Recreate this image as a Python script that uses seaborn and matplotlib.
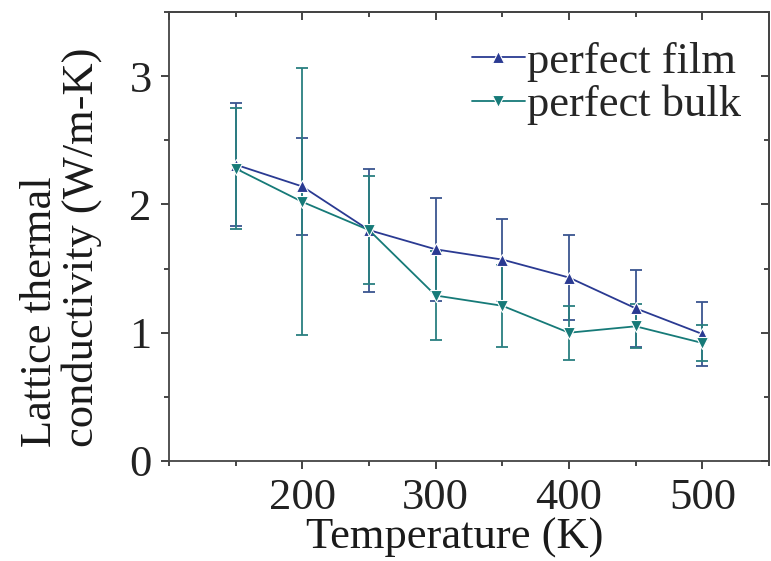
import matplotlib
matplotlib.use("Agg")
import matplotlib.pyplot as plt
from matplotlib.ticker import MultipleLocator
import seaborn as sns
import pandas as pd
import numpy as np

temperature = [150, 200, 250, 300, 350, 400, 450, 500]
film_k = [2.31, 2.14, 1.80, 1.65, 1.57, 1.43, 1.19, 0.99]
film_err = [0.48, 0.38, 0.48, 0.40, 0.32, 0.33, 0.30, 0.25]
bulk_k = [2.28, 2.02, 1.80, 1.29, 1.21, 1.00, 1.05, 0.92]
bulk_err = [0.47, 1.04, 0.42, 0.35, 0.32, 0.21, 0.17, 0.14]
series_names = ["perfect film", "perfect bulk"]

film_color = "#2a3a92"
bulk_color = "#167a78"

df = pd.DataFrame({
    "T": temperature * 2,
    "k": film_k + bulk_k,
    "series": [series_names[0]] * len(temperature) + [series_names[1]] * len(temperature),
})

sns.set_style("ticks")
plt.rcParams["font.family"] = ["Liberation Serif", "DejaVu Serif"]

fig = plt.figure(figsize=(7.71, 5.61), dpi=100)
ax = fig.add_axes([169 / 771, 100 / 561, 600 / 771, 449 / 561])

ax.errorbar(temperature, film_k, yerr=film_err, fmt="none", ecolor="#3a5590",
            elinewidth=1.3, capsize=4, capthick=1.3, zorder=2)
ax.errorbar(temperature, bulk_k, yerr=bulk_err, fmt="none", ecolor="#2a7f80",
            elinewidth=1.3, capsize=4, capthick=1.3, zorder=2)

sns.lineplot(data=df, x="T", y="k", hue="series", style="series",
             markers={"perfect film": "^", "perfect bulk": "v"}, dashes=False,
             palette={"perfect film": film_color, "perfect bulk": bulk_color},
             markersize=9, markeredgewidth=0.8, linewidth=1.3, ax=ax, zorder=3,
             legend=True)

ax.set_xlim(100, 550)
ax.set_ylim(0, 3.5)
ax.xaxis.set_major_locator(MultipleLocator(100))
ax.xaxis.set_minor_locator(MultipleLocator(50))
ax.yaxis.set_major_locator(MultipleLocator(1))
ax.yaxis.set_minor_locator(MultipleLocator(0.5))
ax.set_xticks([200, 300, 400, 500])

ax.tick_params(axis="both", which="major", direction="out", length=6, width=1.2,
               labelsize=32, colors="#222222")
ax.tick_params(axis="both", which="minor", direction="out", length=3.5, width=1.2)
ax.tick_params(axis="y", which="major", pad=6.5)
ax.tick_params(axis="x", which="major", pad=6)

for sp in ax.spines.values():
    sp.set_linewidth(1.3)
    sp.set_color("#444444")
    sp.set_visible(True)

secx = ax.secondary_xaxis("top")
secx.xaxis.set_major_locator(MultipleLocator(100))
secx.xaxis.set_minor_locator(MultipleLocator(50))
secx.tick_params(which="major", direction="in", length=6, width=1.2, labeltop=False)
secx.tick_params(which="minor", direction="in", length=3.5, width=1.2)
secx.spines["top"].set_linewidth(1.3)
secx.spines["top"].set_color("#444444")

secy = ax.secondary_yaxis("right")
secy.yaxis.set_major_locator(MultipleLocator(1))
secy.yaxis.set_minor_locator(MultipleLocator(0.5))
secy.tick_params(which="major", direction="in", length=6, width=1.2, labelright=False)
secy.tick_params(which="minor", direction="in", length=3.5, width=1.2)
secy.spines["right"].set_linewidth(1.3)
secy.spines["right"].set_color("#444444")

ax.set_xlabel("Temperature (K)", fontsize=32, labelpad=0, color="#1a1a1a")
ax.xaxis.set_label_coords(0.477, -0.125, transform=ax.transAxes)
ax.xaxis.label.set_va("top")
ax.set_ylabel("Lattice thermal\nconductivity (W/m-K)", fontsize=32,
              linespacing=1.05, color="#1a1a1a")
ax.yaxis.label.set_multialignment("left")
ax.yaxis.label.set_va("center")
ax.yaxis.label.set_ha("center")
ax.yaxis.set_label_coords(-0.18, 0.475, transform=ax.transAxes)

leg = ax.legend(loc="upper right", bbox_to_anchor=(0.998, 0.993), frameon=False,
                fontsize=32, handlelength=1.2, handletextpad=0.05,
                labelspacing=0.06, borderaxespad=0.2)
for h in leg.legend_handles:
    h.set_markersize(8)

fig.savefig("out.png", dpi=100)
